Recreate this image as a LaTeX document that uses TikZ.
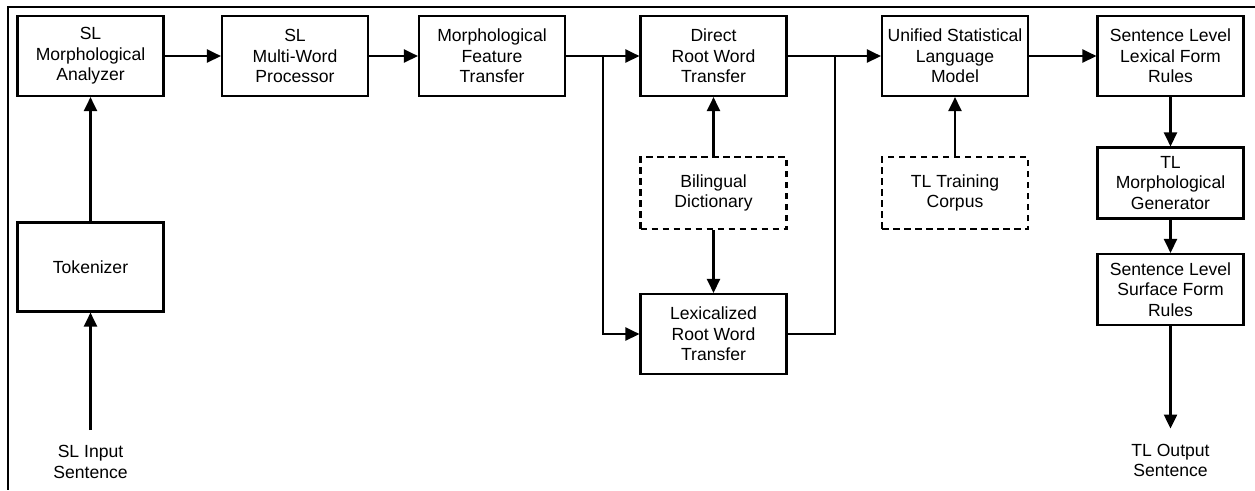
\documentclass[tikz,border=0pt]{standalone}
\usepackage{fontspec}
\setmainfont{Liberation Sans}
\usetikzlibrary{arrows.meta, positioning}

\begin{document}
\begin{tikzpicture}[
  block/.style={rectangle, draw, line width=1.2pt, minimum width=2.92cm, minimum height=1.6cm, inner sep=0pt, align=center, font=\fontsize{10}{11.6}\selectfont},
  resource/.style={block, dashed, dash pattern=on 1.3mm off 0.9mm, minimum height=1.44cm},
  plaintext/.style={align=center, inner sep=0.3cm, font=\fontsize{10}{11.6}\selectfont},
  flow/.style={line width=1.4pt, -{Triangle[length=2.8mm,width=2.6mm]}},
  link/.style={line width=1.4pt}]
\useasboundingbox (0,0) rectangle (25.1,-9.8);
\draw[line width=1.2pt] (25.1,-0.14) -- (0.16,-0.14) -- (0.16,-9.8);

\node[block] (analyzer) at (1.81,-1.12) {SL\\Morphological\\Analyzer};
\node[block] (multiword) at (5.9,-1.12) {SL\\Multi-Word\\Processor};
\node[block] (feature) at (9.84,-1.12) {Morphological\\Feature\\Transfer};
\node[block] (direct) at (14.27,-1.12) {Direct\\Root Word\\Transfer};
\node[block] (unified) at (19.1,-1.12) {Unified Statistical\\Language\\Model};
\node[block] (lexrules) at (23.41,-1.12) {Sentence Level\\Lexical Form\\Rules};
\node[block, minimum height=1.78cm] (tokenizer) at (1.81,-5.34) {Tokenizer};
\node[resource] (dictionary) at (14.27,-3.86) {Bilingual\\Dictionary};
\node[resource] (corpus) at (19.1,-3.86) {TL Training\\Corpus};
\node[block] (lexicalized) at (14.27,-6.68) {Lexicalized\\Root Word\\Transfer};
\node[block, minimum height=1.42cm] (generator) at (23.41,-3.66) {TL\\Morphological\\Generator};
\node[block, minimum height=1.42cm] (surfrules) at (23.41,-5.79) {Sentence Level\\Surface Form\\Rules};
\node[plaintext, anchor=north] (input) at (1.81,-8.6) {SL Input\\Sentence};
\node[plaintext, anchor=north] (output) at (23.41,-8.57) {TL Output\\Sentence};

\coordinate (split) at (12.06,-1.12);
\coordinate (join) at (16.7,-1.12);

\draw[flow] (input) -- (tokenizer);
\draw[flow] (tokenizer) -- (analyzer);
\draw[flow] (analyzer) -- (multiword);
\draw[flow] (multiword) -- (feature);
\draw[flow] (feature) -- (direct);
\draw[flow] (split) |- (lexicalized);
\draw[flow] (dictionary) -- (direct);
\draw[flow] (dictionary) -- (lexicalized);
\draw[flow] (direct) -- (unified);
\draw[link] (lexicalized) -| (join);
\draw[flow] (corpus) -- (unified);
\draw[flow] (unified) -- (lexrules);
\draw[flow] (lexrules) -- (generator);
\draw[flow] (generator) -- (surfrules);
\draw[flow] (surfrules) -- (output);
\end{tikzpicture}
\end{document}
